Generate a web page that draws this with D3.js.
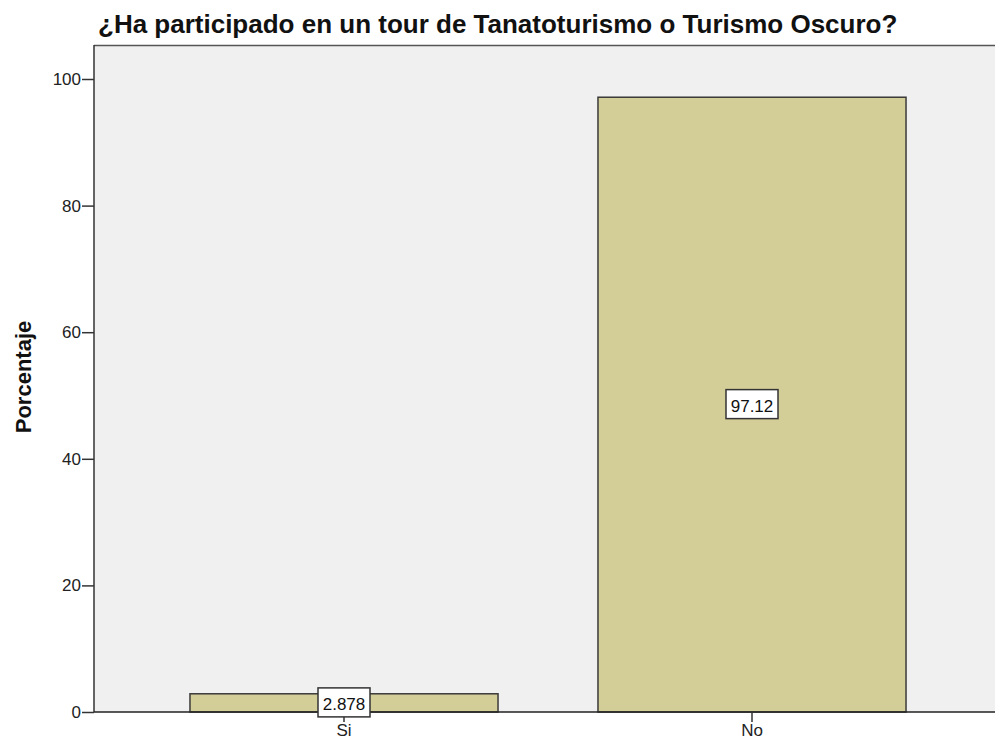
<!DOCTYPE html>
<html>
<head>
<meta charset="utf-8">
<script src="https://cdn.jsdelivr.net/npm/d3@7"></script>
<style>
  body { margin: 0; background: #fff; }
  svg text { font-family: "Liberation Sans", Arial, sans-serif; }
</style>
</head>
<body>
<div id="chart"></div>
<script>
// chart values
var categories = ["Si", "No"];
var percents = [2.878, 97.12];
var labels = ["2.878", "97.12"];
var yTicks = [0, 20, 40, 60, 80, 100];

var width = 995, height = 742;
var plotLeft = 94, plotTop = 45, plotBottom = 712;

var svg = d3.select("#chart")
    .append("svg")
    .attr("width", width)
    .attr("height", height);

var x = d3.scaleBand()
    .domain(categories)
    .range([140, 956])
    .paddingInner(0.245)
    .paddingOuter(0.1225);

var y = d3.scaleLinear()
    .domain([0, 100])
    .range([plotBottom, 79]);

//plot background
svg.append("rect")
    .attr("x", plotLeft)
    .attr("y", plotTop)
    .attr("width", width - plotLeft)
    .attr("height", plotBottom - plotTop)
    .attr("fill", "#f0f0f0");

svg.append("line")
    .attr("x1", plotLeft).attr("x2", width)
    .attr("y1", plotTop + 0.5).attr("y2", plotTop + 0.5)
    .attr("stroke", "#555")
    .attr("stroke-width", 1.5);

//bars
svg.selectAll(".bar")
    .data(categories)
    .enter()
    .append("rect")
    .attr("class", "bar")
    .attr("x", function (d) { return x(d); })
    .attr("y", function (d, i) { return y(percents[i]); })
    .attr("width", x.bandwidth())
    .attr("height", function (d, i) { return y(0) - y(percents[i]); })
    .attr("fill", "#d3cd97")
    .attr("stroke", "#3a3a3a")
    .attr("stroke-width", 1.5);

//y axis
var yAxis = svg.append("g")
    .attr("transform", "translate(" + plotLeft + ",0)")
    .call(d3.axisLeft(y).tickValues(yTicks).tickSize(12).tickPadding(1));
yAxis.select(".domain")
    .attr("d", "M0," + plotTop + "V" + plotBottom)
    .attr("stroke", "#333")
    .attr("stroke-width", 1.5);
yAxis.selectAll(".tick line").attr("stroke", "#333").attr("stroke-width", 1.5);
yAxis.selectAll(".tick text")
    .attr("font-size", "17px")
    .attr("fill", "#222")
    .style("font-family", "Liberation Sans, Arial, sans-serif");

//x axis
var xAxis = svg.append("g")
    .attr("transform", "translate(0," + plotBottom + ")")
    .call(d3.axisBottom(x).tickSize(10).tickPadding(2));
xAxis.select(".domain")
    .attr("d", "M" + plotLeft + ",0H" + width)
    .attr("stroke", "#222")
    .attr("stroke-width", 1.5);
xAxis.selectAll(".tick line").attr("stroke", "#333").attr("stroke-width", 1.5);
xAxis.selectAll(".tick text")
    .attr("font-size", "17px")
    .attr("fill", "#222")
    .style("font-family", "Liberation Sans, Arial, sans-serif");

//value labels in boxes
var valueLabels = svg.selectAll(".val")
    .data(categories)
    .enter()
    .append("g")
    .attr("class", "val")
    .attr("transform", function (d, i) {
        return "translate(" + (x(d) + x.bandwidth() / 2) + "," + y(percents[i] / 2) + ")";
    });

valueLabels.append("rect")
    .attr("x", -26)
    .attr("y", -15)
    .attr("width", 52)
    .attr("height", 29)
    .attr("fill", "#fff")
    .attr("stroke", "#333")
    .attr("stroke-width", 1.5);

valueLabels.append("text")
    .attr("text-anchor", "middle")
    .attr("y", 7)
    .attr("font-size", "17px")
    .attr("fill", "#111")
    .text(function (d, i) { return labels[i]; });

//title
svg.append("text")
    .attr("x", 98)
    .attr("y", 33)
    .attr("font-size", "26px")
    .attr("font-weight", "bold")
    .attr("fill", "#111")
    .text("¿Ha participado en un tour de Tanatoturismo o Turismo Oscuro?");

//y label
svg.append("text")
    .attr("transform", "translate(31,377) rotate(-90)")
    .attr("text-anchor", "middle")
    .attr("font-size", "22px")
    .attr("font-weight", "bold")
    .attr("fill", "#111")
    .text("Porcentaje");
</script>
</body>
</html>
